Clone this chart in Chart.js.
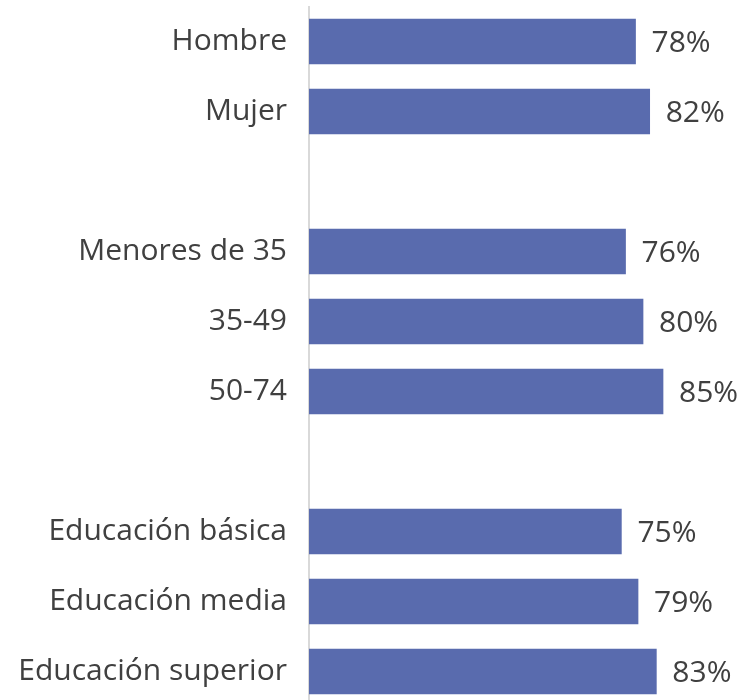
<!DOCTYPE html>
<html>
<head>
<meta charset="utf-8">
<script src="https://cdn.jsdelivr.net/npm/chart.js@4.4.1/dist/chart.umd.min.js"></script>
<style>
  html, body { margin: 0; padding: 0; background: #ffffff; overflow: hidden; }
  #wrap { width: 743px; height: 700px; overflow: hidden; position: relative; }
  canvas { display: block; }
</style>
</head>
<body>
<div id="wrap"><canvas id="c" width="743" height="707"></canvas></div>
<script>
const categories = ['Hombre', 'Mujer', '', 'Menores de 35', '35-49', '50-74', '', 'Educación básica', 'Educación media', 'Educación superior'];
const values = [78.4, 81.8, null, 76, 80.2, 85, null, 75, 79, 83.4];
const valueLabels = ['78%', '82%', '', '76%', '80%', '85%', '', '75%', '79%', '83%'];

const FONT = "'Open Sans', 'Noto Sans', sans-serif";
const TEXT = '#404040';
const FS = 30;

const labelPlugin = {
  id: 'valueLabels',
  afterDatasetsDraw(chart) {
    const ctx = chart.ctx;
    const meta = chart.getDatasetMeta(0);
    ctx.save();
    ctx.font = FS + 'px ' + FONT;
    ctx.fillStyle = TEXT;
    ctx.textAlign = 'left';
    ctx.textBaseline = 'middle';
    meta.data.forEach((el, i) => {
      if (values[i] == null) return;
      ctx.fillText(valueLabels[i], el.x + 16, el.y + 2);
    });
    ctx.restore();
  }
};

new Chart(document.getElementById('c'), {
  type: 'bar',
  data: {
    labels: categories,
    datasets: [{
      data: values,
      backgroundColor: '#596BAE',
      borderWidth: 0,
      barThickness: 45
    }]
  },
  options: {
    indexAxis: 'y',
    responsive: false,
    animation: false,
    devicePixelRatio: 1,
    layout: { padding: { top: 6.5, bottom: 0.5, left: 0, right: 17.5 } },
    plugins: { legend: { display: false }, tooltip: { enabled: false } },
    scales: {
      x: { display: false, min: 0, max: 100 },
      y: {
        offset: true,
        grid: { display: false, drawTicks: false, tickLength: 0 },
        border: { display: true, color: '#d9d9d9', width: 2 },
        ticks: { color: TEXT, font: { size: FS, family: FONT }, padding: 22, autoSkip: false },
        afterFit(scale) {
          scale.width = 309;
          scale.paddingTop = 0;
          scale.paddingBottom = 0;
        }
      }
    }
  },
  plugins: [labelPlugin]
});
</script>
</body>
</html>
